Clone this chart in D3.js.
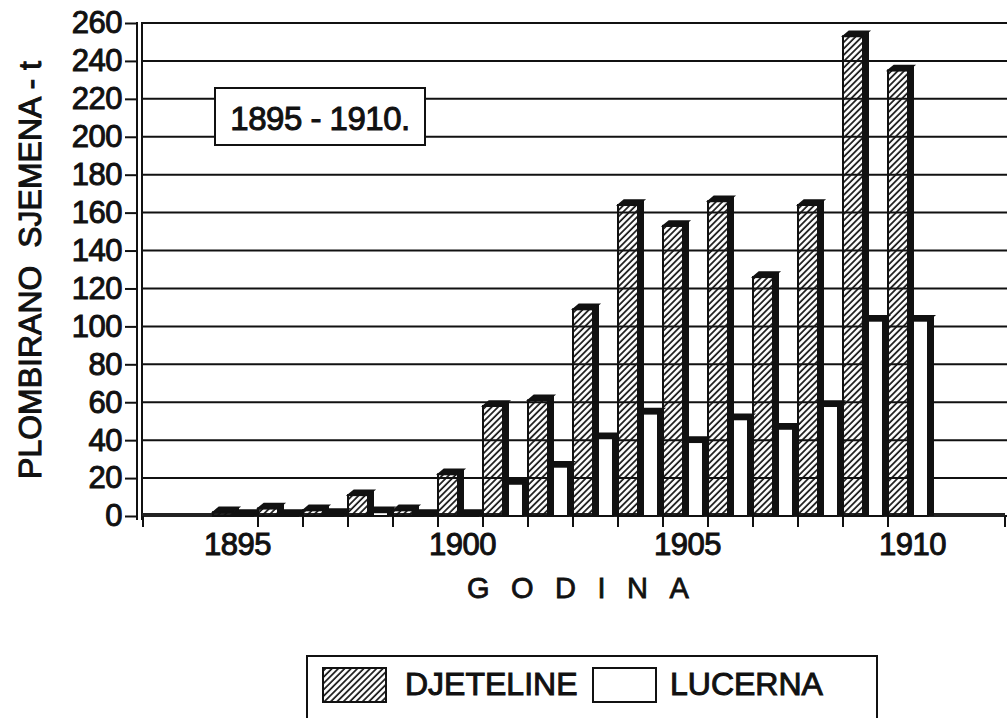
<!DOCTYPE html>
<html>
<head>
<meta charset="utf-8">
<script src="https://cdn.jsdelivr.net/npm/d3@7"></script>
<style>
  body { margin: 0; background: #fff; }
  text { font-family: "Liberation Sans", Arial, sans-serif; fill: #111; }
</style>
</head>
<body>
<div id="plot"></div>
<script>
// data (tonnes of sealed seed)
var years = [1895, 1896, 1897, 1898, 1899, 1900, 1901, 1902, 1903, 1904, 1905, 1906, 1907, 1908, 1909, 1910];
var djeteline = [2, 4, 3, 11, 3, 22, 58, 61, 109, 164, 153, 166, 126, 164, 253, 235];
var lucerna = [0.5, 0.5, 1, 2, 0.5, 0.5, 17, 26, 41, 54, 39, 51, 46, 58, 103, 103];
var yTicks = [0, 20, 40, 60, 80, 100, 120, 140, 160, 180, 200, 220, 240, 260];
var xLabels = [1895, 1900, 1905, 1910];
var seriesNames = ['DJETELINE', 'LUCERNA'];

var W = 1007, H = 718;
var plotLeft = 142, plotRight = 1007, plotTop = 23, base = 516;

// scales
var x = d3.scaleBand()
    .domain(years)
    .range([141, 1005])
    .paddingInner(0)
    .paddingOuter(1.6);

var y = d3.scaleLinear()
    .domain([0, 260])
    .range([base, plotTop]);

var svg = d3.select('#plot').append('svg')
    .attr('width', W)
    .attr('height', H);

svg.append('rect').attr('width', W).attr('height', H).attr('fill', '#fff');

// hatch for the clover series
var defs = svg.append('defs');
defs.append('pattern')
    .attr('id', 'hatch')
    .attr('patternUnits', 'userSpaceOnUse')
    .attr('width', 4.5)
    .attr('height', 4.5)
    .attr('patternTransform', 'rotate(45)')
  .append('line')
    .attr('x1', 1).attr('y1', 0)
    .attr('x2', 1).attr('y2', 4.5)
    .attr('stroke', '#111')
    .attr('stroke-width', 1.7);

// gridlines
svg.append('g').selectAll('line')
    .data(yTicks)
  .enter().append('line')
    .attr('x1', plotLeft).attr('x2', plotRight)
    .attr('y1', function(d) { return y(d); })
    .attr('y2', function(d) { return y(d); })
    .attr('stroke', '#111')
    .attr('stroke-width', 2);

// y axis
var yAxis = d3.axisLeft(y)
    .tickValues(yTicks)
    .tickSize(12)
    .tickPadding(3);

var gy = svg.append('g')
    .attr('transform', 'translate(137,0)')
    .call(yAxis);
gy.select('.domain').remove();
gy.selectAll('line').attr('stroke', '#111').attr('stroke-width', 2);
gy.selectAll('text')
    .attr('font-size', 31)
    .attr('letter-spacing', -0.5)
    .attr('stroke', '#111')
    .attr('stroke-width', 1)
    .attr('fill', '#111')
    .attr('font-family', '"Liberation Sans", Arial, sans-serif');

// double frame line on the left
[137, 142].forEach(function(px) {
  svg.append('line')
      .attr('x1', px).attr('x2', px)
      .attr('y1', plotTop - 1).attr('y2', base + 4)
      .attr('stroke', '#111')
      .attr('stroke-width', 2);
});

// floor
svg.append('line')
    .attr('x1', plotLeft).attr('x2', 1005)
    .attr('y1', base - 1).attr('y2', base - 1)
    .attr('stroke', '#222')
    .attr('stroke-width', 4);

// x tick marks at the boundaries between years
var xTickPos = [plotLeft + 1, 1005].concat(years.slice(1).map(function(d) { return x(d); }));
svg.append('g').selectAll('line')
    .data(xTickPos)
  .enter().append('line')
    .attr('x1', function(d) { return d; })
    .attr('x2', function(d) { return d; })
    .attr('y1', base).attr('y2', base + 11)
    .attr('stroke', '#111')
    .attr('stroke-width', 2);

// x labels
var xAxis = d3.axisBottom(x)
    .tickValues(xLabels)
    .tickSize(0)
    .tickPadding(0);

var gx = svg.append('g')
    .attr('transform', 'translate(2,' + (base + 17) + ')')
    .call(xAxis);
gx.select('.domain').remove();
gx.selectAll('text')
    .attr('dy', '0.72em')
    .attr('font-size', 31)
    .attr('letter-spacing', -0.5)
    .attr('stroke', '#111')
    .attr('stroke-width', 1)
    .attr('fill', '#111')
    .attr('font-family', '"Liberation Sans", Arial, sans-serif');

// 3d bars
var faceW = 20, depth = 6, rise = 5;

function bar3d(g, x0, v, fill) {
  var yv = y(v);
  g.append('polygon')
      .attr('points', [[x0 + faceW, base], [x0 + faceW, yv], [x0 + faceW + depth, yv - rise], [x0 + faceW + depth, base]].join(' '))
      .attr('fill', '#111');
  g.append('polygon')
      .attr('points', [[x0, yv], [x0 + depth, yv - rise], [x0 + faceW + depth, yv - rise], [x0 + faceW, yv]].join(' '))
      .attr('fill', '#111')
      .attr('stroke', '#111')
      .attr('stroke-width', 1.5);
  g.append('rect')
      .attr('x', x0).attr('y', yv)
      .attr('width', faceW).attr('height', base - yv)
      .attr('fill', fill)
      .attr('stroke', '#111')
      .attr('stroke-width', 2);
}

var bars = svg.append('g');
years.forEach(function(yr, i) {
  var g = bars.append('g');
  bar3d(g, x(yr) + faceW, lucerna[i], '#fff');
  bar3d(g, x(yr), djeteline[i], 'url(#hatch)');
});

// period box
svg.append('rect')
    .attr('x', 215).attr('y', 88)
    .attr('width', 210).attr('height', 57)
    .attr('fill', '#fff')
    .attr('stroke', '#111')
    .attr('stroke-width', 2);
svg.append('text')
    .attr('x', 320).attr('y', 130)
    .attr('text-anchor', 'middle')
    .attr('font-size', 33)
    .attr('letter-spacing', -0.5)
    .attr('stroke', '#111')
    .attr('stroke-width', 1)
    .text('1895 - 1910.');

// axis titles
svg.append('text')
    .attr('transform', 'translate(41,270) rotate(-90)')
    .attr('text-anchor', 'middle')
    .attr('font-size', 32)
    .attr('stroke', '#111')
    .attr('stroke-width', 1)
    .attr('xml:space', 'preserve')
    .text('PLOMBIRANO  SJEMENA - t');

svg.append('text')
    .attr('x', 467).attr('y', 598)
    .attr('font-size', 29)
    .attr('letter-spacing', 21.5)
    .attr('stroke', '#111')
    .attr('stroke-width', 0.8)
    .text('GODINA');

// legend
var lg = svg.append('g');
lg.append('rect')
    .attr('x', 307).attr('y', 656)
    .attr('width', 570).attr('height', 80)
    .attr('fill', '#fff')
    .attr('stroke', '#111')
    .attr('stroke-width', 2);

var legendItems = [
  {name: seriesNames[0], fill: 'url(#hatch)', sx: 323, tx: 405},
  {name: seriesNames[1], fill: '#fff', sx: 593, tx: 670}
];
legendItems.forEach(function(d) {
  lg.append('rect')
      .attr('x', d.sx).attr('y', 668)
      .attr('width', 63).attr('height', 34)
      .attr('fill', d.fill)
      .attr('stroke', '#111')
      .attr('stroke-width', 2);
  lg.append('text')
      .attr('x', d.tx).attr('y', 695)
      .attr('font-size', 32)
      .attr('stroke', '#111')
      .attr('stroke-width', 1)
      .text(d.name);
});
</script>
</body>
</html>
